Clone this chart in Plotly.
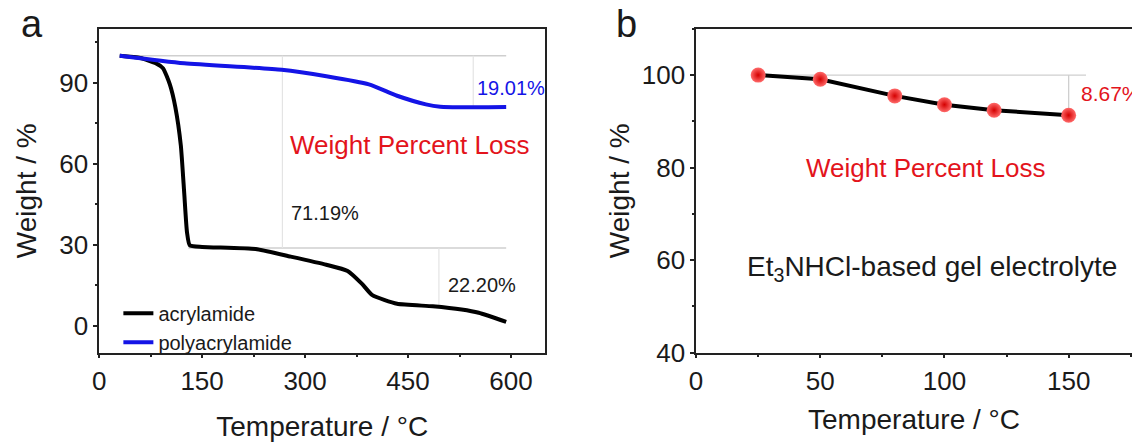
import plotly.graph_objects as go

# ---------------- data: panel a (TGA) ----------------
temp_acryl = [30, 60, 83, 93, 103, 111, 119, 124, 128, 132, 150, 228, 279, 331, 362, 383, 398, 434, 486, 528, 553, 593]
wt_acryl = [100, 99.2, 97.2, 95.4, 89.4, 81, 66.8, 48.9, 34.6, 29.8, 29.2, 28.4, 25.6, 22.6, 20.3, 15.5, 11.3, 8.1, 7.2, 6.0, 4.8, 1.4]

temp_poly = [30, 124, 266, 331, 393, 434, 476, 497, 538, 593]
wt_poly = [100, 97.2, 94.8, 92.4, 89.4, 85.2, 82.0, 81.1, 80.9, 81.0]

loss_labels_a = ["71.19%", "22.20%", "19.01%"]
loss_label_x_a = [277, 505, 548]
loss_label_y_a = [41.7, 15.0, 88.0]
plateau_a = 28.81          # level after first step (100 - 71.19)
guide_vx_a = [267, 495, 545]

# ---------------- data: panel b ----------------
temp_b = [25, 50, 80, 100, 120, 150]
wt_b = [100, 99.1, 95.5, 93.6, 92.4, 91.33]
loss_label_b = "8.67%"

FONT = "Arial, Liberation Sans, sans-serif"
RED = "#e3141c"
BLUE = "#1414e6"
DARK = "#1a1a1a"
GUIDE_H = "#cfcfcf"
GUIDE_V = "#e4e4e4"

fig = go.Figure()

# guide lines panel a
fig.add_trace(go.Scatter(x=[temp_acryl[0], temp_poly[-1], None, 130, temp_acryl[-1]],
                         y=[wt_acryl[0], wt_acryl[0], None, plateau_a, plateau_a],
                         mode="lines", line=dict(color=GUIDE_H, width=1.5),
                         showlegend=False, hoverinfo="skip", xaxis="x", yaxis="y"))
fig.add_trace(go.Scatter(x=[guide_vx_a[0], guide_vx_a[0], None, guide_vx_a[1], guide_vx_a[1], None, guide_vx_a[2], guide_vx_a[2]],
                         y=[wt_acryl[0], plateau_a, None, plateau_a, 7.0, None, wt_poly[0], wt_poly[-1]],
                         mode="lines", line=dict(color=GUIDE_V, width=1.2),
                         showlegend=False, hoverinfo="skip", xaxis="x", yaxis="y"))

fig.add_trace(go.Scatter(x=temp_acryl, y=wt_acryl, mode="lines", name="acrylamide",
                         line=dict(color="black", width=4, shape="spline", smoothing=0.5),
                         xaxis="x", yaxis="y"))
fig.add_trace(go.Scatter(x=temp_poly, y=wt_poly, mode="lines", name="polyacrylamide",
                         line=dict(color=BLUE, width=4, shape="spline", smoothing=0.6),
                         xaxis="x", yaxis="y"))

# guide lines panel b
fig.add_trace(go.Scatter(x=[temp_b[0], 157, None, temp_b[-1], temp_b[-1]],
                         y=[wt_b[0], wt_b[0], None, wt_b[0], wt_b[-1]],
                         mode="lines", line=dict(color=GUIDE_H, width=1.3),
                         showlegend=False, hoverinfo="skip", xaxis="x2", yaxis="y2"))
fig.add_trace(go.Scatter(x=temp_b, y=wt_b, mode="lines+markers", showlegend=False,
                         line=dict(color="black", width=4),
                         marker=dict(size=15, color="#ff6a6a",
                                     gradient=dict(type="radial", color="#d40000"),
                                     line=dict(width=0)),
                         xaxis="x2", yaxis="y2"))

axis_common = dict(showline=True, linecolor="#222222", linewidth=1.5, showgrid=False, zeroline=False,
                   ticks="outside", ticklen=4, tickwidth=1.5, tickcolor="#222222",
                   tickfont=dict(size=26, color=DARK, family=FONT))

fig.update_layout(
    width=1132, height=445, margin=dict(l=0, r=0, t=0, b=0),
    plot_bgcolor="white", paper_bgcolor="white",
    font=dict(family=FONT, color=DARK),
    xaxis=dict(axis_common, domain=[0.0819, 0.4785], range=[0, 650], tick0=0, dtick=150,
               minor=dict(ticks="outside", ticklen=2.5, dtick=75, tickcolor="#222222"),
               mirror=True, anchor="y",
               title=dict(text="Temperature / °C", font=dict(size=28, color=DARK), standoff=22)),
    yaxis=dict(axis_common, domain=[0.1798, 0.933], range=[-10, 110], tick0=0, dtick=30,
               minor=dict(ticks="outside", ticklen=2.5, dtick=15, tickcolor="#222222"),
               mirror=True, anchor="x",
               title=dict(text="Weight / %", font=dict(size=28, color=DARK), standoff=14)),
    xaxis2=dict(axis_common, domain=[0.6125, 1.0], range=[0, 175.5], tick0=0, dtick=50,
                minor=dict(ticks="outside", ticklen=2.5, dtick=25, tickcolor="#222222"),
                mirror=True, anchor="y2",
                title=dict(text="Temperature / °C", font=dict(size=28, color=DARK), standoff=15)),
    yaxis2=dict(axis_common, domain=[0.1798, 0.933], range=[40, 110], tick0=40, dtick=20,
                minor=dict(ticks="outside", ticklen=2.5, dtick=10, tickcolor="#222222"),
                mirror=False, anchor="x2",
                title=dict(text="Weight / %", font=dict(size=28, color=DARK), standoff=4)),
    legend=dict(x=0.099, y=0.317, xanchor="left", yanchor="top", bgcolor="rgba(0,0,0,0)",
                font=dict(size=20, color=DARK, family=FONT), tracegroupgap=0,
                itemwidth=30),
)

ann = []
for t, x, y in zip(loss_labels_a[:2], loss_label_x_a[:2], loss_label_y_a[:2]):
    ann.append(dict(x=x, y=y, xref="x", yref="y", text=t, showarrow=False, xanchor="left",
                    font=dict(size=20, color=DARK)))
ann.append(dict(x=loss_label_x_a[2], y=loss_label_y_a[2], xref="x", yref="y", text=loss_labels_a[2],
                showarrow=False, xanchor="left", font=dict(size=20, color=BLUE)))
ann.append(dict(x=452, y=66.8, xref="x", yref="y", text="Weight Percent Loss", showarrow=False,
                font=dict(size=26, color=RED)))
ann.append(dict(x=154, y=96.0, xref="x2", yref="y2", text=loss_label_b, showarrow=False, xanchor="left",
                font=dict(size=21, color=RED)))
ann.append(dict(x=92.5, y=80.0, xref="x2", yref="y2", text="Weight Percent Loss", showarrow=False,
                font=dict(size=26, color=RED)))
ann.append(dict(x=95, y=58.1, xref="x2", yref="y2", text="Et<sub>3</sub>NHCl-based gel electrolyte",
                showarrow=False, font=dict(size=28, color=DARK)))
ann.append(dict(x=12 / 1132, y=1 - 1 / 445, xref="paper", yref="paper", text="a", showarrow=False,
                xanchor="left", yanchor="top", font=dict(size=38, color=DARK)))
ann.append(dict(x=611 / 1132, y=1 - 1 / 445, xref="paper", yref="paper", text="b", showarrow=False,
                xanchor="left", yanchor="top", font=dict(size=38, color=DARK)))
fig.update_layout(annotations=ann)

fig.write_html("out.html")
